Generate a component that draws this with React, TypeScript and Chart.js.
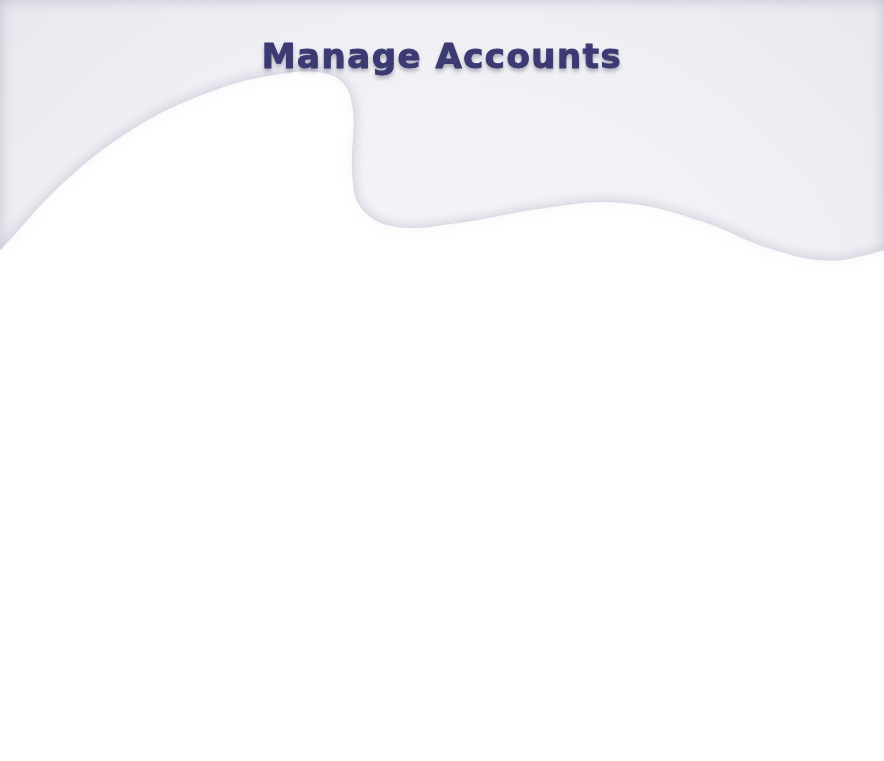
import { useEffect, useRef } from 'react'
import { Chart, registerables, ChartConfiguration } from 'chart.js'

Chart.register(...registerables)

// upper edge of the white band (x, y in page pixels, y grows downward)
const upperX = [0, 60, 130, 200, 270, 330, 352, 353, 362, 395, 460, 540, 620, 700, 770, 830, 884]
const upperY = [250, 185, 130, 95, 75, 74, 100, 175, 208, 226, 222, 208, 202, 220, 248, 260, 250]

// lower edge of the white band
const lowerX = [0, 60, 120, 190, 260, 340, 420, 490, 522, 532, 531, 548, 600, 680, 760, 830, 884]
const lowerY = [508, 500, 510, 540, 557, 552, 540, 536, 552, 592, 650, 686, 692, 674, 630, 570, 510]

const pts = (xs: number[], ys: number[]) => xs.map((x, i) => ({ x, y: ys[i] }))

const shadowPlugin = {
  id: 'softShadow',
  beforeDatasetsDraw(chart: Chart) {
    const ctx = chart.ctx
    ctx.save()
    ctx.shadowColor = 'rgba(90, 85, 130, 0.2)'
    ctx.shadowBlur = 12
  },
  afterDatasetsDraw(chart: Chart) {
    chart.ctx.restore()
  },
}

export default function App() {
  const chartRef = useRef<HTMLCanvasElement>(null)

  useEffect(() => {
    document.body.style.margin = '0'
    if (!chartRef.current) return
    const config: ChartConfiguration<'scatter'> = {
      type: 'scatter',
      data: {
        datasets: [
          {
            data: pts(upperX, upperY),
            showLine: true,
            tension: 0.4,
            fill: 'start',
            backgroundColor: '#ffffff',
            borderColor: '#dddce6',
            borderWidth: 1.5,
            pointRadius: 0,
          },
          {
            data: pts(lowerX, lowerY),
            showLine: true,
            tension: 0.4,
            fill: 'start',
            backgroundColor: '#f2f1f6',
            borderColor: '#dddce6',
            borderWidth: 1.5,
            pointRadius: 0,
          },
        ],
      },
      options: {
        responsive: true,
        maintainAspectRatio: false,
        animation: false,
        layout: { padding: 0 },
        plugins: { legend: { display: false }, tooltip: { enabled: false } },
        scales: {
          x: { type: 'linear', min: 0, max: 884, display: false },
          y: { type: 'linear', min: 0, max: 761, reverse: true, display: false },
        },
      },
      plugins: [shadowPlugin],
    }
    const chart = new Chart(chartRef.current, config)
    return () => chart.destroy()
  }, [])

  return (
    <div
      style={{
        position: 'relative',
        width: 884,
        height: 761,
        background: 'radial-gradient(ellipse at center, #f6f5f9 0%, #f1f0f5 60%, #e9e8ee 100%)',
        boxShadow: 'inset 0 0 14px rgba(120,115,150,0.35)',
        overflow: 'hidden',
      }}
    >
      <canvas ref={chartRef}></canvas>
      <div
        style={{
          position: 'absolute',
          top: 36,
          left: 0,
          width: '100%',
          textAlign: 'center',
          fontFamily: '"DejaVu Sans", sans-serif',
          fontWeight: 'bold',
          fontSize: 34,
          letterSpacing: 1.5,
          color: '#3b3a72',
          textShadow: '0 3px 4px rgba(40,40,70,0.4)',
          WebkitTextStroke: '1px #3b3a72',
        }}
      >
        Manage Accounts
      </div>
    </div>
  )
}
